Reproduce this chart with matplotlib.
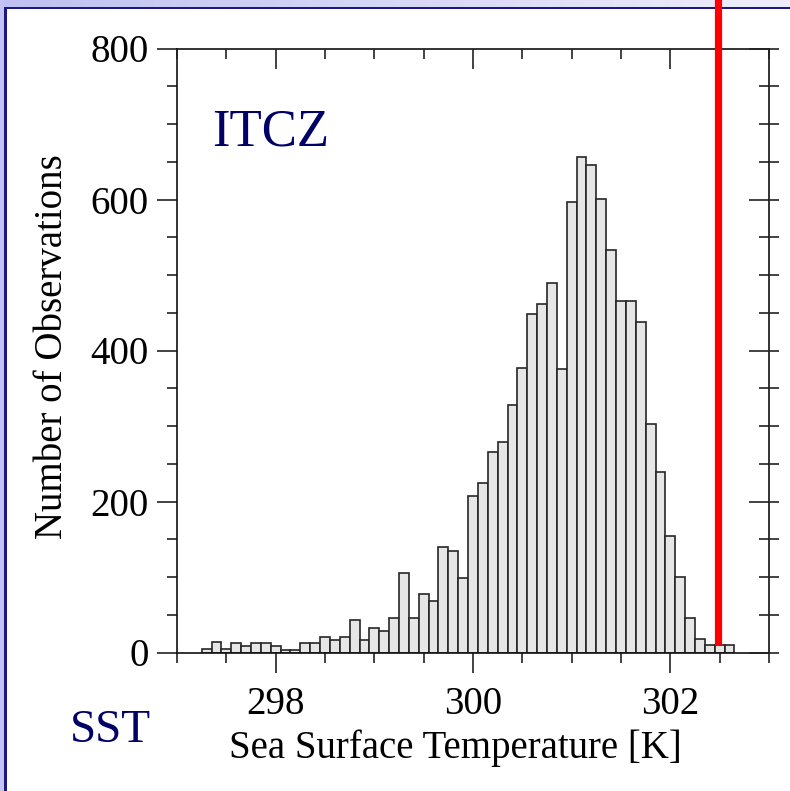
import numpy as np
import matplotlib
matplotlib.use("Agg")
import matplotlib.pyplot as plt
from matplotlib.ticker import MultipleLocator
from matplotlib.patches import Rectangle
from matplotlib.colors import LinearSegmentedColormap

plt.rcParams["font.family"] = ["Liberation Serif", "DejaVu Serif"]

# SST histogram, 0.1 K bins (bin centres)
sst_bins = np.round(np.arange(297.3, 302.65, 0.1), 1)
counts = [
    4, 14, 4, 13, 8, 12, 12, 8, 3, 3,
    12, 12, 21, 16, 21, 43, 16, 33, 29, 46,
    105, 46, 77, 68, 140, 135, 99, 207, 225, 265,
    279, 328, 377, 449, 462, 489, 376, 597, 656, 646,
    601, 533, 465, 465, 438, 302, 239, 154, 100, 46,
    18, 10, 10, 10,
]
bin_width = 0.1
sst_marker = 302.48
marker_base = 10

NAVY = "#000066"
FS = 28
TICK_C = "#222222"
MAJ, MIN = 14.4, 7.2

fig = plt.figure(figsize=(7.9, 7.91), dpi=100)
fig.patch.set_facecolor("white")

# slide frame: gradient band on top, strip on the left, dark rules
grad = np.linspace(0, 1, 256).reshape(1, -1)
band = fig.add_axes([0, 1 - 7 / 791, 1, 7 / 791], zorder=-2)
band.imshow(grad, aspect="auto", extent=[0, 1, 0, 1],
            cmap=LinearSegmentedColormap.from_list("band", ["#c0c0f2", "#eeeefb"]))
band.set_axis_off()
fig.add_artist(Rectangle((0, 0), 3.5 / 790, 1, transform=fig.transFigure,
                         facecolor="#c4c4f2", edgecolor="none", zorder=-1))
fig.add_artist(Rectangle((3.5 / 790, 0), 3 / 790, 1 - 7 / 791, transform=fig.transFigure,
                         facecolor="#1a1a80", edgecolor="none", zorder=-1))
fig.add_artist(Rectangle((3.5 / 790, 1 - 9 / 791), 1, 2.5 / 791, transform=fig.transFigure,
                         facecolor="#1a1a80", edgecolor="none", zorder=-1))

pos = [177 / 790, 1 - 652.5 / 791, 592 / 790, 604 / 791]
ax = fig.add_axes(pos)
ax.bar(sst_bins, counts, width=bin_width, color="#e6e6e6",
       edgecolor="#262626", linewidth=1.2, zorder=2)

ax.set_xlim(297, 303)
ax.set_ylim(0, 800)
ax.xaxis.set_major_locator(MultipleLocator(2))
ax.xaxis.set_minor_locator(MultipleLocator(0.5))
ax.yaxis.set_major_locator(MultipleLocator(200))
ax.yaxis.set_minor_locator(MultipleLocator(50))
ax.set_xticks([298, 300, 302])

for sp in ax.spines.values():
    sp.set_linewidth(1.2)
    sp.set_color("#111111")

# bottom / left: outward ticks with labels
ax.tick_params(which="both", direction="out", top=False, right=False,
               width=1.2, color=TICK_C)
ax.tick_params(which="major", length=MAJ, labelsize=FS)
ax.tick_params(which="minor", length=MIN)
ax.tick_params(axis="x", which="major", pad=10)
ax.tick_params(axis="y", which="major", pad=6)

# top / right: inward ticks
iax = fig.add_axes(pos, sharex=ax, sharey=ax, facecolor="none")
iax.spines[:].set_visible(False)
iax.tick_params(which="both", direction="in", top=True, right=True,
                bottom=False, left=False, labelbottom=False, labelleft=False,
                width=1.2, color=TICK_C)
iax.tick_params(which="major", length=MAJ)
iax.tick_params(which="minor", length=MIN)

# outer half of the right-hand ticks
rax = fig.add_axes(pos, sharey=ax, facecolor="none")
rax.spines[:].set_visible(False)
rax.set_xticks([])
rax.tick_params(axis="y", which="both", direction="out", left=False, right=True,
                labelleft=False, length=MIN, width=1.2, color=TICK_C)

rax.plot([sst_marker, sst_marker], [marker_base, 900], color="#ff0000",
         linewidth=5.2, solid_capstyle="butt", clip_on=False, zorder=5,
         transform=ax.transData)

ax.text(0.47, -0.158, "Sea Surface Temperature [K]", transform=ax.transAxes,
        ha="center", va="center", fontsize=FS)
ax.text(-0.211, 0.506, "Number of Observations", transform=ax.transAxes,
        ha="center", va="center", rotation=90, fontsize=FS)
ax.text(0.059, 0.8386, "ITCZ", transform=ax.transAxes, ha="left",
        va="baseline", fontsize=38, color=NAVY)
fig.text(70 / 790, 1 - 742 / 791, "SST", ha="left", va="baseline",
         fontsize=34, color=NAVY)

fig.savefig("out.png", dpi=100)
